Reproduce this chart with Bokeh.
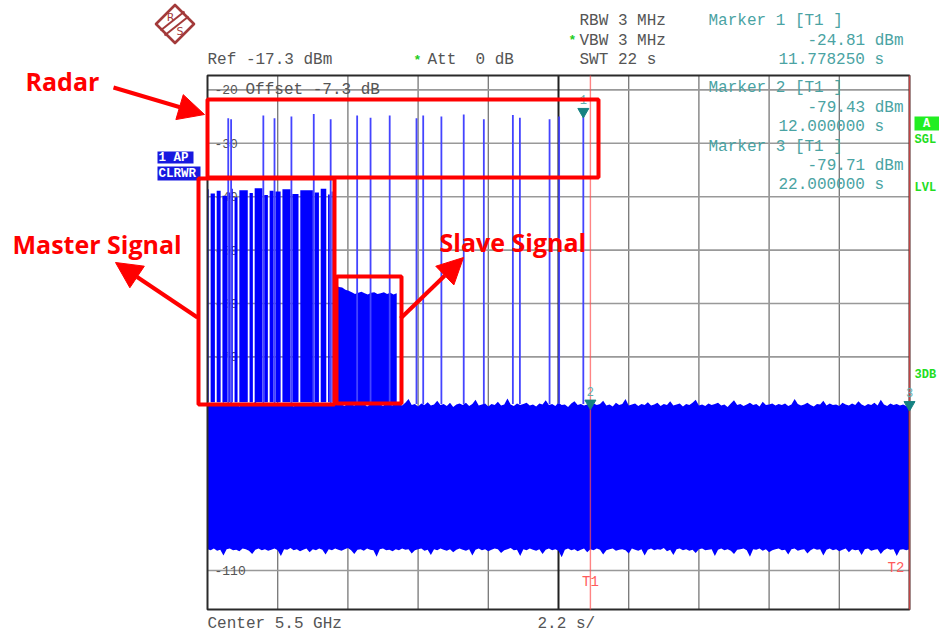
import numpy as np
from bokeh.plotting import figure
from bokeh.models import Range1d, Arrow, NormalHead
from bokeh.core.properties import value
from bokeh.embed import file_html
from bokeh.resources import INLINE

# ---------------- data ----------------
sweep_time = 22.0          # s  (2.2 s/div, 10 div)
ref_level = -17.3          # dBm (top of graticule)
range_db = 100.0           # 10 dB/div
y_tick_values = [-20, -30, -40, -50, -60, -70, -80, -90, -100, -110]
x_div = 2.2

# noise band (auto-peak detector: max / min envelope), one value every 0.1 s
noise_upper = [
    -78.8, -79.1, -78.7, -79.0, -78.9, -78.5, -79.2, -78.8, -79.0, -78.6, -79.3, -78.9, -78.7, -79.1, -78.8, -78.4, -79.0, -78.9, -79.2, -78.7,
    -78.9, -79.0, -78.6, -79.2, -78.8, -79.0, -78.7, -79.3, -78.9, -78.6, -79.1, -78.8, -79.0, -78.5, -79.2, -78.9, -78.7, -79.0, -78.8, -79.1,
    -78.7, -79.0, -78.9, -79.2, -78.6, -78.9, -79.1, -78.8, -79.0, -78.7, -79.3, -78.9, -78.6, -79.0, -78.8, -79.2, -78.7, -78.9, -79.1, -78.5,
    -78.9, -79.1, -78.6, -77.9, -79.0, -78.8, -79.3, -78.7, -79.0, -78.5, -79.1, -78.9, -78.2, -79.0, -78.8, -79.2, -78.6, -79.4, -78.9, -78.7,
    -79.0, -78.6, -79.2, -78.8, -78.0, -79.1, -78.9, -78.7, -79.3, -78.8, -79.0, -78.4, -79.1, -78.9, -77.8, -78.9, -79.2, -78.7, -79.0, -78.8,
    -78.6, -79.1, -78.9, -79.3, -78.7, -78.9, -78.1, -79.0, -78.8, -79.2, -78.6, -79.0, -78.9, -79.4, -78.7, -78.3, -79.0, -78.8, -79.1, -78.9,
    -79.2, -78.7, -79.0, -78.8, -78.2, -79.1, -78.9, -79.3, -78.6, -79.0, -78.8, -77.9, -79.1, -78.9, -78.7, -79.2, -78.8, -79.0, -78.5, -79.1,
    -78.9, -78.6, -79.2, -78.8, -79.0, -78.3, -79.1, -78.9, -78.7, -79.3, -78.8, -79.0, -78.6, -78.0, -79.1, -78.9, -79.2, -78.7, -79.0, -78.8,
    -78.6, -79.1, -78.9, -79.4, -78.7, -78.1, -79.0, -78.8, -79.2, -78.9, -78.6, -79.0, -78.8, -79.3, -78.4, -79.0, -78.9, -78.7, -79.1, -78.8,
    -79.0, -78.7, -79.2, -78.9, -77.9, -78.8, -79.1, -78.9, -78.6, -79.0, -79.3, -78.8, -78.9, -78.2, -79.1, -78.7, -79.0, -78.9, -79.2, -78.6,
    -78.9, -79.1, -78.7, -79.0, -78.3, -78.9, -79.2, -78.8, -79.0, -78.6, -79.1, -78.0, -78.9, -79.2, -78.7, -79.0, -78.8, -79.1, -78.9, -79.2,
    -79.5]
noise_lower = [
    -106.0, -106.2, -105.9, -106.3, -106.1, -107.2, -106.0, -105.9, -106.2, -106.1, -106.4, -105.9, -106.0, -106.3, -106.9, -106.1, -105.9, -106.2, -106.0, -106.3,
    -106.1, -105.9, -106.2, -107.3, -106.0, -106.1, -105.8, -106.2, -106.0, -106.4, -106.1, -105.9, -106.6, -106.0, -106.2, -105.9, -106.1, -107.0, -106.0, -106.2,
    -105.9, -106.1, -106.3, -106.0, -105.8, -106.2, -106.9, -106.1, -106.0, -106.3, -105.9, -106.1, -106.2, -107.4, -106.0, -105.9, -106.2, -106.1, -106.4, -106.0,
    -106.2, -105.9, -106.1, -106.0, -106.8, -106.2, -106.0, -105.9, -106.3, -106.1, -107.1, -106.0, -106.2, -105.9, -106.1, -106.3, -106.0, -106.6, -106.1, -105.9,
    -106.1, -106.3, -106.0, -107.2, -106.1, -105.9, -106.2, -106.0, -106.4, -106.1, -105.9, -106.0, -106.7, -106.2, -106.0, -105.8, -106.2, -106.1, -107.3, -106.0,
    -106.2, -105.9, -106.1, -106.3, -106.0, -106.9, -106.1, -105.9, -106.2, -106.0, -106.3, -107.5, -106.1, -105.9, -106.2, -106.0, -106.4, -106.1, -105.9, -106.6,
    -106.0, -106.2, -105.9, -106.1, -107.0, -106.2, -106.0, -105.9, -106.3, -106.1, -106.0, -106.2, -106.8, -105.9, -106.1, -106.3, -106.0, -107.2, -106.1, -105.9,
    -106.2, -106.0, -106.1, -105.8, -106.4, -106.1, -107.1, -106.0, -105.9, -106.2, -106.0, -106.3, -106.1, -106.7, -106.0, -105.9, -106.2, -106.1, -106.0, -107.3,
    -106.1, -105.9, -106.2, -106.0, -106.3, -106.9, -106.1, -106.0, -105.9, -106.2, -107.4, -106.0, -106.1, -105.9, -106.3, -106.0, -106.6, -106.2, -106.0, -105.9,
    -106.2, -106.1, -107.0, -106.0, -105.9, -106.3, -106.1, -106.0, -106.8, -106.2, -105.9, -106.1, -106.0, -107.2, -106.1, -105.9, -106.2, -106.0, -106.4, -106.1,
    -105.9, -106.6, -106.0, -106.2, -106.1, -107.1, -106.0, -105.9, -106.3, -106.1, -106.0, -106.9, -106.2, -105.9, -106.1, -106.0, -107.3, -106.1, -106.0, -106.2,
    -106.0]

# master signal: bursts between short gaps (gaps also where radar pulses fall)
master_start, master_end = 0.02, 3.92
master_gaps = [0.07, 0.26, 0.44, 0.65, 0.74, 0.82, 0.97, 1.29, 1.45, 1.75,
               1.92, 2.10, 2.32, 2.63, 2.88, 3.33, 3.52, 3.75, 3.86]
master_tops = [-38.6, -39.4, -38.9, -39.8, -39.2, -38.5, -40.1, -38.8, -39.3, -38.4,
               -39.7, -38.9, -39.0, -38.6, -39.5, -38.8, -39.2, -38.5, -39.6, -39.0]
master_floor = -78.5

# slave signal
slave_start, slave_end = 4.02, 5.93
slave_levels = [-56.6, -56.9, -57.0, -57.4, -57.6, -57.9, -58.2, -58.0, -57.8, -58.1,
                -58.3, -58.0, -57.9, -58.2, -58.1, -57.9, -58.2, -58.0, -58.3, -58.1]

# radar pulses
radar_times = [0.65, 0.74, 1.75, 2.10, 2.63, 3.33, 3.86, 4.69, 5.11, 5.71,
               6.55, 6.76, 7.33, 8.03, 8.66, 9.57, 9.79, 10.72, 11.02, 11.778]
radar_peaks = [-25.3, -25.5, -24.8, -25.3, -25.0, -24.5, -25.5, -24.8, -25.2, -24.8,
               -25.3, -24.8, -25.0, -24.6, -25.5, -24.7, -25.2, -25.5, -25.0, -24.81]
radar_floor = -78.8

# markers
marker_names = ["1", "2", "3"]
marker_times = [11.77825, 12.0, 22.0]
marker_levels = [-24.81, -79.43, -79.71]
marker_time_txt = ["11.778250 s", "12.000000 s", "22.000000 s"]
marker_level_txt = ["-24.81 dBm", "-79.43 dBm", "-79.71 dBm"]
t1_time, t2_time = 12.0, 22.0

# ---------------- layout helpers ----------------
W, H = 939, 633
PX0, PX1 = 207.0, 909.0     # px of graticule left / right
PY0, PY1 = 75.0, 609.0      # px of graticule top / bottom
sx = sweep_time / (PX1 - PX0)
sy = range_db / (PY1 - PY0)


def X(px):
    return (px - PX0) * sx


def Y(py):
    return ref_level - (py - PY0) * sy


x_start, x_end = X(0), X(W)
y_end, y_start = Y(0), Y(H)
bottom_level = ref_level - range_db

p = figure(width=W, height=H, x_range=Range1d(x_start, x_end), y_range=Range1d(y_start, y_end),
           output_backend="svg", toolbar_location=None, min_border=0,
           x_axis_location=None, y_axis_location=None)
p.grid.visible = False
p.outline_line_color = None
p.background_fill_color = "white"
p.border_fill_color = "white"

MONO = value("Liberation Mono")
NB = "\u00a0"

# graticule
vx = [round(x_div * k, 3) for k in range(1, 10)]
vx_minor = [v for v in vx if abs(v - sweep_time / 2) > 1e-6]
p.segment(x0=vx_minor, y0=bottom_level, x1=vx_minor, y1=ref_level, line_color="#777777", line_width=1.3)
p.segment(x0=0, y0=y_tick_values, x1=sweep_time, y1=y_tick_values, line_color="#999999", line_width=1.6)
p.segment(x0=[sweep_time / 2], y0=bottom_level, x1=[sweep_time / 2], y1=ref_level,
          line_color="#202020", line_width=2)

# level labels drawn inside the graticule
p.text(x=X(214), y=y_tick_values, text=[str(v) for v in y_tick_values], text_font=MONO,
       text_font_size="13px", text_color="#555555", text_baseline="middle", text_align="left")
p.text(x=[X(245)], y=[-20], text=["Offset" + NB + "-7.3" + NB + "dB"], text_font=MONO, text_font_size="16px",
       text_color="#555555", text_baseline="middle", text_align="left")

# trace: noise band
t_noise = np.linspace(0, sweep_time, len(noise_upper))
p.varea(x=t_noise, y1=noise_lower, y2=noise_upper, fill_color="#0000ff")

# master bursts
half_gap = 0.028
lefts = [master_start] + [g + half_gap for g in master_gaps]
rights = [g - half_gap for g in master_gaps] + [master_end]
p.quad(left=lefts, right=rights, bottom=master_floor, top=master_tops,
       fill_color="#0000ff", line_color=None)

# slave
t_slave = np.linspace(slave_start, slave_end, len(slave_levels))
p.varea(x=t_slave, y1=master_floor, y2=slave_levels, fill_color="#0000ff")

# radar pulses
p.segment(x0=radar_times, y0=radar_floor, x1=radar_times, y1=radar_peaks,
          line_color="#4444ff", line_width=1.8)

# frame
p.quad(left=0, right=sweep_time, bottom=bottom_level, top=ref_level, fill_alpha=0,
       line_color="#2a2a2a", line_width=2)

# T1 / T2 time lines
p.segment(x0=[t1_time, t2_time], y0=bottom_level, x1=[t1_time, t2_time], y1=ref_level,
          line_color="#ff5050", line_alpha=0.7, line_width=1.4)
p.text(x=[t1_time], y=[Y(581)], text=["T1"], text_font=MONO, text_font_size="14px",
       text_color="#ff5a5a", text_baseline="middle", text_align="center")
p.text(x=[X(887)], y=[Y(567)], text=["T2"], text_font=MONO, text_font_size="14px",
       text_color="#ff5a5a", text_baseline="middle", text_align="left")

# markers
p.scatter(x=marker_times, y=[v + 0.75 for v in marker_levels], marker="inverted_triangle",
          size=11, fill_color="#168282", line_color="#168282")
p.text(x=marker_times, y=[v + 3.0 for v in marker_levels], text=marker_names, text_font=MONO,
       text_font_size="12px", text_color="#5fb0b0", text_baseline="middle", text_align="center")

# header texts
gray = "#555555"
teal = "#4aa3a3"
hdr = [("Ref -17.3 dBm", 207, 59, gray), ("Att  0 dB", 427, 59, gray),
       ("RBW 3 MHz", 579, 20, gray), ("VBW 3 MHz", 579, 40, gray), ("SWT 22 s", 579, 59, gray),
       ("Center 5.5 GHz", 207, 623, gray), ("2.2 s/", 537, 623, gray)]
rows_y = [(20, 40, 59.3), (87.3, 107, 126), (146, 165.7, 184.3)]
for i in range(3):
    hdr.append(("Marker %s [T1 ]" % marker_names[i], 708, rows_y[i][0], teal))
    hdr.append((marker_level_txt[i], 807, rows_y[i][1], teal))
    hdr.append((marker_time_txt[i], 778, rows_y[i][2], teal))
p.text(x=[X(h[1]) for h in hdr], y=[Y(h[2]) for h in hdr], text=[h[0].replace(" ", NB) for h in hdr],
       text_color=[h[3] for h in hdr], text_font=MONO, text_font_size="16px",
       text_baseline="middle", text_align="left")
p.text(x=[X(417), X(572)], y=[Y(60), Y(40)], text=["*", "*"], text_font=MONO,
       text_font_size="13px", text_color="#22cc22", text_baseline="middle", text_align="center",
       text_font_style="bold")

# trace info boxes (left) and status labels (right)
p.quad(left=[X(157), X(157)], right=[X(193), X(200)], top=[Y(151), Y(166)], bottom=[Y(163), Y(180)],
       fill_color="#1818e0", line_color=None)
p.text(x=[X(158), X(158)], y=[Y(157.5), Y(173)], text=["1" + NB + "AP", "CLRWR"], text_font=MONO,
       text_font_size="12.5px", text_font_style="bold", text_color="white", text_baseline="middle")
p.quad(left=[X(914)], right=[X(939)], top=[Y(116)], bottom=[Y(130)], fill_color="#22ee22", line_color=None)
p.text(x=[X(926)], y=[Y(123)], text=["A"], text_font=MONO, text_font_size="12px",
       text_font_style="bold", text_color="white", text_baseline="middle", text_align="center")
p.text(x=[X(914)] * 3, y=[Y(139), Y(187), Y(374)], text=["SGL", "LVL", "3DB"], text_font=MONO,
       text_font_size="12px", text_font_style="bold", text_color="#22dd22", text_baseline="middle")

# R&S logo
lc, lcy, lr = 174.5, 23.5, 19.0
logo = "#a33a3a"
p.patch(x=[X(lc - lr), X(lc), X(lc + lr), X(lc)], y=[Y(lcy), Y(lcy - lr), Y(lcy), Y(lcy + lr)],
        fill_alpha=0, line_color=logo, line_width=2.6, line_join="round")
p.segment(x0=[X(160), X(164)], y0=[Y(30), Y(35)], x1=[X(184), X(188)], y1=[Y(11), Y(16)],
          line_color=logo, line_width=2)
p.text(x=[X(170), X(179.5)], y=[Y(16.5), Y(31)], text=["R", "S"], text_font=value("DejaVu Sans"),
       text_font_size="11px", text_color=logo, text_baseline="middle", text_align="center")

# red annotation boxes
p.quad(left=[X(207), X(198), X(336)], right=[X(598), X(334), X(401)],
       top=[Y(99), Y(178), Y(276)], bottom=[Y(177), Y(404), Y(403)],
       fill_alpha=0, line_color="#ff0000", line_width=4)
for (x0, y0, x1, y1) in [(113, 87, 204, 114), (197, 317, 115, 262), (400, 318, 463, 257)]:
    p.add_layout(Arrow(end=NormalHead(size=26, fill_color="#ff0000", line_color="#ff0000"),
                       x_start=X(x0), y_start=Y(y0), x_end=X(x1), y_end=Y(y1),
                       line_color="#ff0000", line_width=4))
p.text(x=[X(25), X(12), X(439)], y=[Y(80), Y(243.5), Y(241.5)],
       text=["Radar", "Master" + NB + "Signal", "Slave" + NB + "Signal"], text_font=value("Open Sans"),
       text_font_size="25px", text_font_style="bold", text_color="#ff0000",
       text_baseline="alphabetic", text_align="left")

open("out.html", "w").write(file_html(p, INLINE))
